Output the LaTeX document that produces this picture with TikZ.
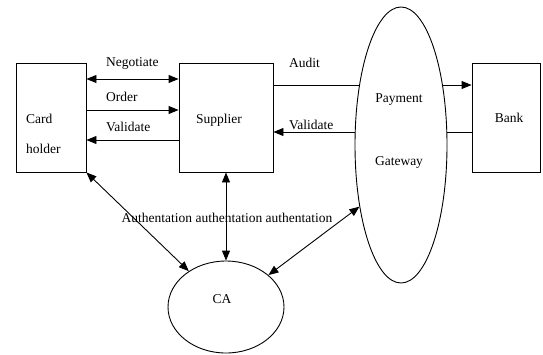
\documentclass[tikz,border=0pt]{standalone}
\usepackage{fontspec}
\setmainfont{Liberation Serif}
\usetikzlibrary{arrows.meta,shapes.geometric}
\begin{document}
\begin{tikzpicture}[x=1pt,y=-1pt,
  font=\fontsize{13.5}{16}\selectfont,
  box/.style={draw,line width=0.9pt,minimum height=109pt,inner sep=0pt},
  oval/.style={draw,ellipse,line width=0.9pt,inner sep=0pt,fill=white},
  conn/.style={line width=0.9pt,>={Triangle[length=10pt,width=8pt]}},
  lbl/.style={inner sep=0pt,anchor=west}]
\useasboundingbox (0,0) rectangle (543,354);
\node[box,minimum width=70pt] (card) at (51,117.5) {};
\node[box,minimum width=94pt] (sup) at (226,117.5) {};
\node[box,minimum width=68pt] (bank) at (506,117.5) {};
% card holder <-> supplier
\draw[conn,<->] ([yshift=38.5pt]card.east) -- ([yshift=38.5pt]sup.west);
\draw[conn,->] ([yshift=7.5pt]card.east) -- ([yshift=7.5pt]sup.west);
\draw[conn,<-] ([yshift=-22.5pt]card.east) -- ([yshift=-22.5pt]sup.west);
% supplier <-> bank (through gateway)
\draw[conn,->] ([yshift=32.5pt]sup.east) -- ([yshift=32.5pt]bank.west);
\draw[conn,<-] ([yshift=-14.5pt]sup.east) -- ([yshift=-14.5pt]bank.west);
\node[oval,minimum width=92pt,minimum height=276pt] (pg) at (401,145) {};
\node[oval,minimum width=116pt,minimum height=92pt] (ca) at (226,307) {};
% authentication links
\draw[conn,<->] (card.south east) -- (ca);
\draw[conn,<->] (sup) -- (ca);
\draw[conn,<->] (pg.236) -- (ca);
% labels
\node[lbl] (tneg) at (106,63) {Negotiate};
\node[lbl] (tord) at (106,97) {Order};
\node[lbl] (tval) at (106,127) {Validate};
\node[lbl] (tcard) at (26,119) {Card};
\node[lbl] (thold) at (26,149) {holder};
\node (tsup) at (219,120) {Supplier};
\node[lbl] (taud) at (289,63) {Audit};
\node[lbl] (tval2) at (289,125) {Validate};
\node (tpay) at (399,100) {Payment};
\node (tgate) at (399,162) {Gateway};
\node (tbank) at (509,118) {Bank};
\node (tca) at (222,299) {CA};
\node (tauth) at (227,218) {Authentation authentation authentation};
\end{tikzpicture}
\end{document}
